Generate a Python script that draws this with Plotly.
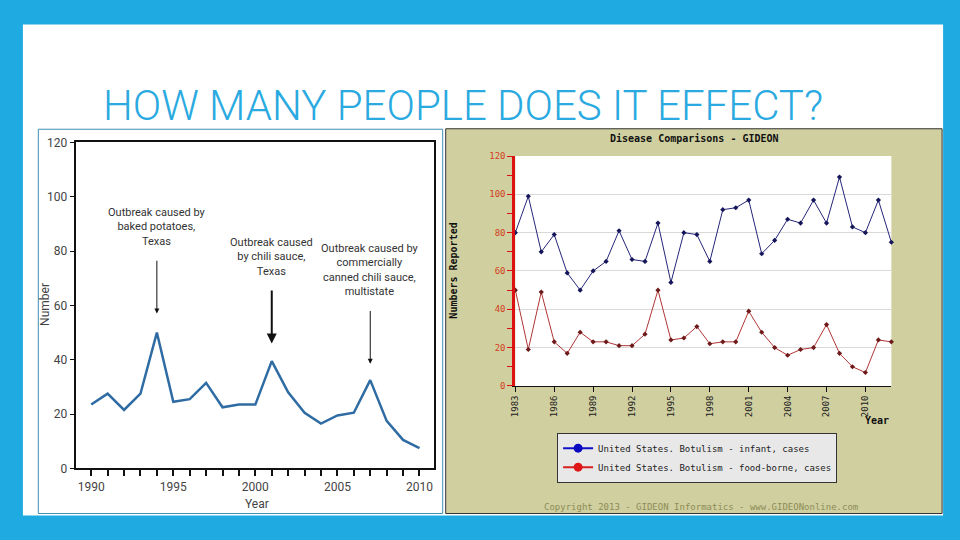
import plotly.graph_objects as go

# ---------------- data ----------------
left_years = list(range(1990, 2011))
left_cases = [23.5, 27.5, 21.5, 27.5, 50, 24.5, 25.5, 31.5, 22.5, 23.5, 23.5,
              39.5, 28, 20.5, 16.5, 19.5, 20.5, 32.5, 17.5, 10.5, 7.5]

outbreak_years = [1994, 2001, 2007]
outbreak_texts = ["Outbreak caused by<br>baked potatoes,<br>Texas",
                  "Outbreak caused<br>by chili sauce,<br>Texas",
                  "Outbreak caused by<br>commercially<br>canned chili sauce,<br>multistate"]

right_years = list(range(1983, 2013))
infant_cases = [80, 99, 70, 79, 59, 50, 60, 65, 81, 66, 65, 85, 54, 80, 79,
                65, 92, 93, 97, 69, 76, 87, 85, 97, 85, 109, 83, 80, 97, 75]
foodborne_cases = [50, 19, 49, 23, 17, 28, 23, 23, 21, 21, 27, 50, 24, 25, 31,
                   22, 23, 23, 39, 28, 20, 16, 19, 20, 32, 17, 10, 7, 24, 23]

right_xticks = list(range(1983, 2011, 3))
y_ticks = [0, 20, 40, 60, 80, 100, 120]

series_names = ["United States. Botulism - infant, cases",
                "United States. Botulism - food-borne, cases"]

# ---------------- styling ----------------
W, H = 960, 540
BLUE = "#1FAAE1"
KHAKI = "#D0CFA0"
NARROW = "Liberation Sans Narrow, Arial Narrow, Roboto, sans-serif"
MONO = "DejaVu Sans Mono, monospace"


def px(x):
    return x / W


def py(y):
    return 1 - y / H


fig = go.Figure()

# left chart line
fig.add_trace(go.Scatter(x=left_years, y=left_cases, mode="lines",
                         line=dict(color="#2F6CA3", width=2.5),
                         xaxis="x", yaxis="y", showlegend=False))

# right chart lines
fig.add_trace(go.Scatter(x=right_years, y=infant_cases, mode="lines+markers",
                         line=dict(color="#25257A", width=1),
                         marker=dict(symbol="diamond", size=4, color="#15155A"),
                         xaxis="x2", yaxis="y2", showlegend=False, cliponaxis=False))
fig.add_trace(go.Scatter(x=right_years, y=foodborne_cases, mode="lines+markers",
                         line=dict(color="#B03535", width=1),
                         marker=dict(symbol="diamond", size=4, color="#6E1A1A"),
                         xaxis="x2", yaxis="y2", showlegend=False, cliponaxis=False))

# legend entries (styled like the original legend box)
for name, lc, mc in zip(series_names, ["#1010C8", "#D82020"], ["#0A0AC0", "#E01515"]):
    fig.add_trace(go.Scatter(x=[None], y=[None], mode="lines+markers", name=name,
                             line=dict(color=lc, width=2),
                             marker=dict(symbol="circle", size=9, color=mc),
                             xaxis="x2", yaxis="y2"))

shapes = [
    # white slide
    dict(type="rect", xref="paper", yref="paper", x0=px(18), x1=px(943), y0=py(522), y1=py(18),
         fillcolor="white", line=dict(width=0), layer="below"),
    # left image frame
    dict(type="rect", xref="paper", yref="paper", x0=px(33.5), x1=px(440), y0=py(520), y1=py(125.5),
         fillcolor="white", line=dict(color="#3C8FB5", width=1), layer="below"),
    # right khaki panel
    dict(type="rect", xref="paper", yref="paper", x0=px(443), x1=px(942), y0=py(520), y1=py(125),
         fillcolor=KHAKI, line=dict(color="#333333", width=1), layer="below"),
    # right plot area
    dict(type="rect", xref="paper", yref="paper", x0=px(513), x1=px(891), y0=py(389), y1=py(153),
         fillcolor="white", line=dict(width=0), layer="below"),
]


def label(text, x, y, font, angle=0):
    return dict(text=text, xref="paper", yref="paper", x=px(x), y=py(y),
                xanchor="center", yanchor="middle", textangle=angle,
                showarrow=False, font=font)


annotations = [
    dict(text="HOW MANY PEOPLE DOES IT EFFECT?", xref="paper", yref="paper",
         x=px(96), y=py(101), xanchor="left", yanchor="middle", showarrow=False,
         font=dict(family="Roboto, sans-serif", size=42, color="#2AAAE0", weight=300)),
    # left chart axis titles
    label("Number", 40, 305, dict(family=NARROW, size=12, color="#444"), -90),
    label("Year", 253, 510, dict(family=NARROW, size=12, color="#444")),
    # right chart texts
    label("<b>Disease Comparisons - GIDEON</b>", 693, 135, dict(family=MONO, size=10, color="#111")),
    label("<b>Numbers Reported</b>", 451, 271, dict(family=MONO, size=10, color="#111"), -90),
    label("<b>Year</b>", 877, 425, dict(family=MONO, size=10, color="#111")),
    label("Copyright 2013 - GIDEON Informatics - www.GIDEONonline.com", 700, 513,
          dict(family=MONO, size=9, color="#8C8C55")),
]

# outbreak annotations with arrows
tip_offsets = [7, 6.5, 6]
widths = [1, 2, 1]
for yr, txt, off, w in zip(outbreak_years, outbreak_texts, tip_offsets, widths):
    val = left_cases[left_years.index(yr)]
    tip = val + off
    tail = tip + 20
    annotations.append(dict(x=yr, y=tip, ax=yr, ay=tail, xref="x", yref="y", axref="x", ayref="y",
                            text="", showarrow=True, arrowhead=2, arrowsize=1, arrowwidth=w,
                            arrowcolor="#111"))
    annotations.append(dict(x=yr, y=tail + 3.5, xref="x", yref="y", text=txt, showarrow=False,
                            xanchor="center", yanchor="bottom", align="center",
                            font=dict(family=NARROW, size=11, color="#333")))

fig.update_layout(
    width=W, height=H, autosize=False,
    margin=dict(l=0, r=0, t=0, b=0),
    paper_bgcolor=BLUE, plot_bgcolor="rgba(0,0,0,0)",
    shapes=shapes, annotations=annotations,
    xaxis=dict(domain=[px(71), px(431)], range=[1989.05, 2010.87], anchor="y",
               showline=True, linecolor="#111", linewidth=2, mirror=True,
               ticks="outside", ticklen=6, tickwidth=1.5, tickcolor="#111",
               tickvals=left_years,
               ticktext=[str(y) if y % 5 == 0 else "" for y in left_years],
               showgrid=False, zeroline=False,
               tickfont=dict(family=NARROW, size=12, color="#444")),
    yaxis=dict(domain=[py(473.7), py(139)], range=[0, 120], anchor="x",
               showline=True, linecolor="#111", linewidth=2, mirror=True,
               ticks="outside", ticklen=4, tickwidth=1, tickcolor="#111",
               tickvals=y_ticks, showgrid=False, zeroline=False,
               tickfont=dict(family=NARROW, size=12, color="#444")),
    xaxis2=dict(domain=[px(513), px(891)], range=[1983, 2012], anchor="y2",
                showline=True, linecolor="#111", linewidth=1,
                ticks="outside", ticklen=5, tickcolor="#111",
                tickvals=right_xticks, tickangle=-90, showgrid=False, zeroline=False,
                tickfont=dict(family=MONO, size=9, color="#222")),
    yaxis2=dict(domain=[py(389), py(153)], range=[0, 120], anchor="x2",
                showline=True, linecolor="#DD1111", linewidth=3,
                ticks="outside", ticklen=5, tickcolor="#DD1111",
                tickvals=y_ticks, showgrid=True, gridcolor="#D9D9D9", zeroline=False,
                minor=dict(dtick=10, ticks="outside", ticklen=5, tickcolor="#DD1111"),
                tickfont=dict(family=MONO, size=9, color="#D04020")),
    legend=dict(x=px(555), y=py(437), xanchor="left", yanchor="top",
                bgcolor="#E8E8E8", bordercolor="#333", borderwidth=1,
                font=dict(family=MONO, size=9, color="#222"), tracegroupgap=0,
                itemwidth=30),
    showlegend=True,
)

fig.write_html("out.html", config={"displayModeBar": False},
               post_script="document.body.style.margin='0';")
